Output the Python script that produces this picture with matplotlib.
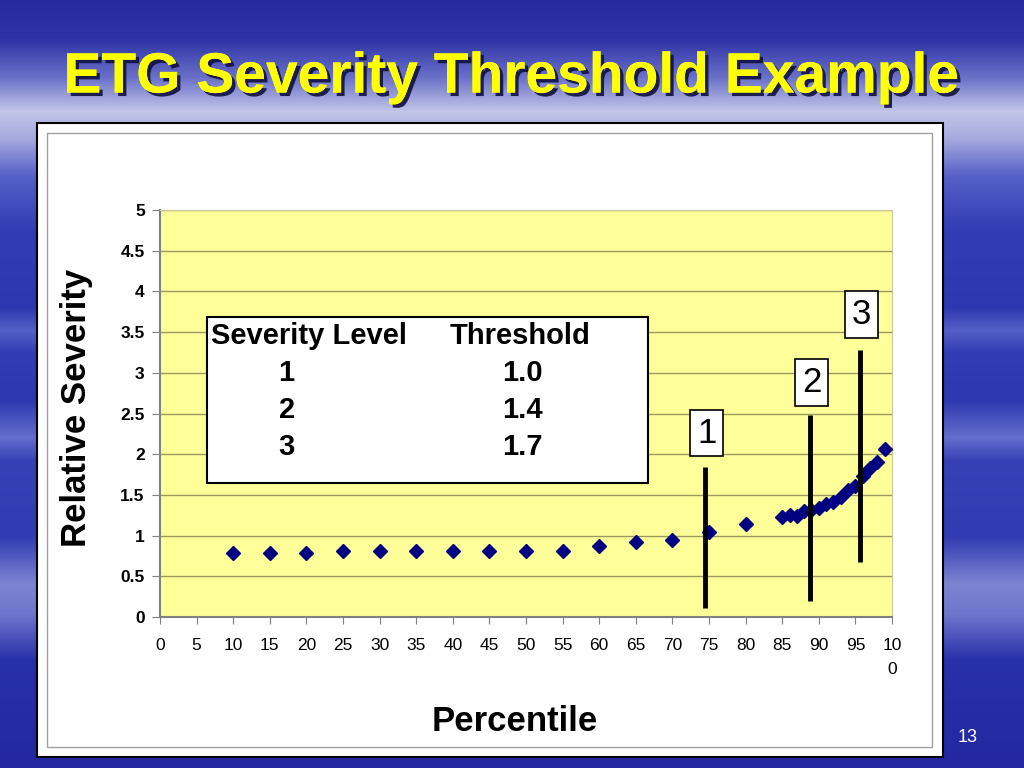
import numpy as np
import matplotlib
matplotlib.use("Agg")
import matplotlib.pyplot as plt
from matplotlib.patches import Rectangle
import matplotlib.patheffects as pe

# percentile vs relative severity
pct = [10, 15, 20, 25, 30, 35, 40, 45, 50, 55, 60, 65, 70, 75, 80,
       85, 86, 87, 88, 89, 90, 91, 92, 93, 94, 95, 96, 97, 98, 99]
sev = [0.79, 0.79, 0.79, 0.81, 0.81, 0.81, 0.81, 0.81, 0.81, 0.81, 0.87, 0.92, 0.94, 1.05, 1.14,
       1.23, 1.25, 1.24, 1.30, 1.31, 1.34, 1.39, 1.41, 1.47, 1.56, 1.61, 1.73, 1.83, 1.91, 2.06]

# threshold marker lines: x position, bottom, top
levels = ["1", "2", "3"]
thresholds = ["1.0", "1.4", "1.7"]
line_x = [74.5, 88.8, 95.6]
line_lo = [0.11, 0.20, 0.68]
line_hi = [1.84, 2.48, 3.28]
label_y = [2.26, 2.88, 3.72]

xticks = list(range(0, 101, 5))
xlabels = [str(t) for t in xticks[:-1]] + ["10\n0"]
yticks = [0, 0.5, 1, 1.5, 2, 2.5, 3, 3.5, 4, 4.5, 5]
ylabels = ["0", "0.5", "1", "1.5", "2", "2.5", "3", "3.5", "4", "4.5", "5"]

plt.rcParams['font.family'] = ['Liberation Sans', 'DejaVu Sans']

fig = plt.figure(figsize=(10.24, 7.68), dpi=100)

# slide background, blue with lighter streaks
bg = fig.add_axes([0, 0, 1, 1])
stops = [0.0, 0.05, 0.10, 0.145, 0.18, 0.23, 0.30, 0.40, 0.43, 0.46, 0.52, 0.57, 0.60, 0.70, 0.76, 0.80, 0.86, 1.0]
cols = np.array([
    [38, 42, 158], [45, 50, 165], [105, 112, 200], [195, 198, 232], [165, 170, 222],
    [85, 95, 200], [50, 60, 180], [45, 55, 175], [85, 95, 200], [50, 60, 180],
    [45, 55, 175], [100, 110, 205], [55, 65, 182], [50, 60, 178], [125, 132, 210],
    [110, 118, 205], [40, 48, 170], [35, 40, 160]
]) / 255.0
yy = np.linspace(0, 1, 768)
grad = np.stack([np.interp(yy, stops, cols[:, k]) for k in range(3)], axis=1)
img = np.repeat(grad[:, None, :], 1024, axis=1)
bg.imshow(img, aspect="auto", extent=[0, 1, 0, 1], origin="upper")
bg.set_xlim(0, 1)
bg.set_ylim(0, 1)
bg.axis("off")

# white chart panel
bg.add_patch(Rectangle((37 / 1024, 1 - 757 / 768), 906 / 1024, 634 / 768,
                       facecolor="white", edgecolor="black", lw=1.5, zorder=2))
bg.add_patch(Rectangle((47 / 1024, 1 - 747 / 768), 885 / 1024, 614 / 768,
                       facecolor="none", edgecolor="#a0a0a0", lw=1.0, zorder=3))

# title
fig.text(0.5, 0.899, "ETG Severity Threshold Example", ha="center", va="center",
         fontsize=41, fontweight="bold", color="#FFFF00",
         path_effects=[pe.withSimplePatchShadow(offset=(2.5, -2.5), shadow_rgbFace="#101040", alpha=0.9),
                       pe.Normal()])
fig.text(968 / 1024, 1 - 737 / 768, "13", ha="center", va="center", fontsize=13, color="white")

ax = fig.add_axes([160 / 1024, 1 - 617 / 768, 732 / 1024, 407 / 768])
ax.set_facecolor("#FFFF99")
ax.set_xlim(0, 100)
ax.set_ylim(0, 5)
ax.set_xticks(xticks)
ax.set_xticklabels(xlabels, fontsize=12.5, linespacing=1.75)
ax.set_yticks(yticks)
ax.set_yticklabels(ylabels, fontsize=12.5, fontweight="bold")
ax.tick_params(axis="x", length=5, color="#808080", pad=10)
ax.tick_params(axis="y", length=6, color="#808080", pad=5)
for lab in ax.get_xticklabels():
    lab.set_verticalalignment("top")
ax.grid(axis="y", color="#9a9a60", lw=1.0)
ax.set_axisbelow(True)
for s in ["left", "bottom"]:
    ax.spines[s].set_color("#808080")
    ax.spines[s].set_linewidth(1.5)
for s in ["top", "right"]:
    ax.spines[s].set_color("#c8c8a0")
    ax.spines[s].set_linewidth(0.8)

ax.plot(pct, sev, linestyle="none", marker="D", markersize=7.5,
        markerfacecolor="#000080", markeredgecolor="#000080", zorder=3)

for x, lo, hi, lv, ly in zip(line_x, line_lo, line_hi, levels, label_y):
    ax.plot([x, x], [lo, hi], color="black", lw=3.5, solid_capstyle="butt", zorder=4)
    ax.text(x + 0.2, ly, lv, ha="center", va="center", fontsize=25, zorder=5,
            bbox=dict(boxstyle="square,pad=0.2", facecolor="white", edgecolor="black", lw=1.2))

# severity table
ax.add_patch(Rectangle((6.4, 1.65), 60.3, 2.04, facecolor="white", edgecolor="black", lw=1.5, zorder=5))
ax.text(7.0, 3.45, "Severity Level", ha="left", va="center", fontsize=21, fontweight="bold", zorder=6)
ax.text(39.6, 3.45, "Threshold", ha="left", va="center", fontsize=21, fontweight="bold", zorder=6)
for i, (lv, th) in enumerate(zip(levels, thresholds)):
    yrow = 3.0 - i * 0.455
    ax.text(17.3, yrow, lv, ha="center", va="center", fontsize=21, fontweight="bold", zorder=6)
    ax.text(49.5, yrow, th, ha="center", va="center", fontsize=21, fontweight="bold", zorder=6)

ax.set_xlabel("Percentile", fontsize=25, fontweight="bold")
ax.xaxis.set_label_coords(0.484, -0.215)
ax.set_ylabel("Relative Severity", fontsize=25, fontweight="bold")
ax.yaxis.set_label_coords(-0.091, 0.513)

fig.savefig("out.png", dpi=100)
